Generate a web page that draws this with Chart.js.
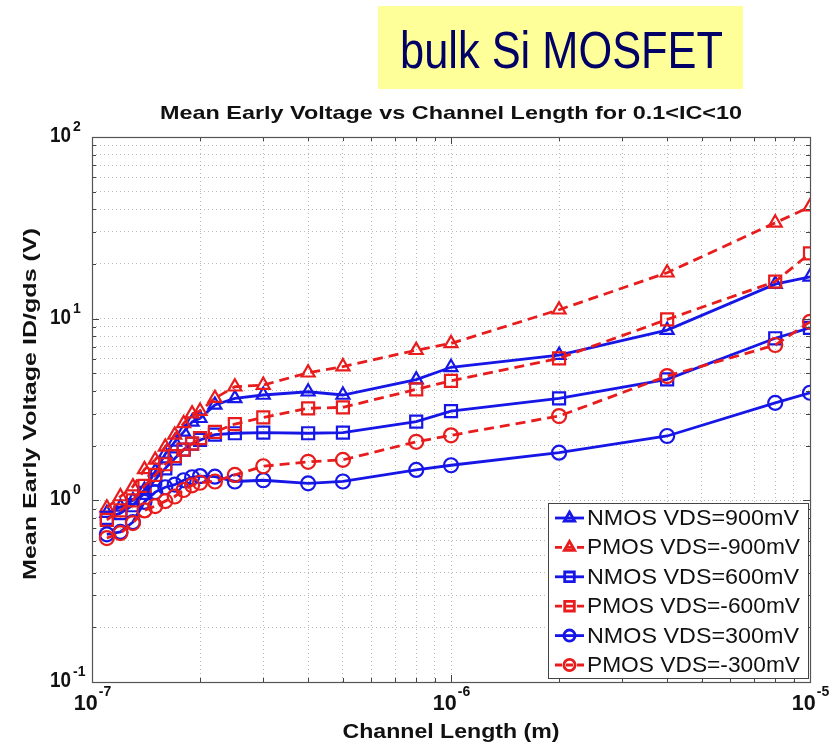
<!DOCTYPE html>
<html>
<head>
<meta charset="utf-8">
<script src="https://cdn.jsdelivr.net/npm/chart.js@4/dist/chart.umd.min.js"></script>
<style>
  html, body { margin: 0; padding: 0; background: #ffffff; }
  #wrap { position: relative; width: 839px; height: 745px; }
  canvas { display: block; }
</style>
</head>
<body>
<div id="wrap"><canvas id="c" width="839" height="745"></canvas></div>
<script>
// ---- data ----
const channelLength = [1.1e-7, 1.2e-7, 1.3e-7, 1.4e-7, 1.5e-7, 1.6e-7, 1.7e-7, 1.8e-7, 1.9e-7, 2.0e-7, 2.2e-7,
                       2.5e-7, 3e-7, 4e-7, 5e-7, 8e-7, 1e-6, 2e-6, 4e-6, 8e-6, 1e-5];
const nmos900 = [0.85, 0.92, 1.00, 1.14, 1.44, 1.80, 2.10, 2.38, 2.70, 2.83, 3.35, 3.64, 3.80, 3.96, 3.80, 4.62, 5.40, 6.30, 8.65, 15.5, 17.0];
const pmos900 = [0.91, 1.05, 1.19, 1.48, 1.67, 1.97, 2.29, 2.65, 3.00, 3.10, 3.65, 4.22, 4.31, 5.04, 5.45, 6.70, 7.31, 11.2, 17.9, 33.7, 41.3];
const nmos600 = [0.80, 0.85, 0.94, 1.10, 1.30, 1.50, 1.70, 1.90, 2.05, 2.15, 2.30, 2.34, 2.36, 2.34, 2.36, 2.71, 3.10, 3.64, 4.63, 7.80, 8.90];
const pmos600 = [0.78, 0.88, 1.00, 1.20, 1.38, 1.58, 1.75, 1.90, 2.05, 2.20, 2.38, 2.63, 2.86, 3.21, 3.25, 4.08, 4.55, 6.05, 9.90, 16.0, 22.9];
const nmos300 = [0.65, 0.67, 0.76, 0.98, 1.11, 1.18, 1.22, 1.29, 1.34, 1.36, 1.35, 1.27, 1.29, 1.24, 1.27, 1.47, 1.56, 1.83, 2.26, 3.44, 3.91];
const pmos300 = [0.62, 0.66, 0.75, 0.88, 0.93, 0.99, 1.05, 1.14, 1.21, 1.25, 1.27, 1.38, 1.54, 1.63, 1.67, 2.10, 2.28, 2.91, 4.83, 7.16, 9.61];

const seriesLabels = ['NMOS VDS=900mV', 'PMOS VDS=-900mV', 'NMOS VDS=600mV', 'PMOS VDS=-600mV', 'NMOS VDS=300mV', 'PMOS VDS=-300mV'];
const seriesValues = [nmos900, pmos900, nmos600, pmos600, nmos300, pmos300];
const seriesMarkers = ['triangle', 'triangle', 'rect', 'rect', 'circle', 'circle'];

const xDecades = [-7, -6, -5];
const yDecades = [-1, 0, 1, 2];

const titleText = 'Mean Early Voltage vs Channel Length for 0.1<IC<10';
const xTitle = 'Channel Length (m)';
const yTitle = 'Mean Early Voltage ID/gds (V)';
const bannerText = 'bulk Si MOSFET';

// ---- styles ----
const BLUE = 'rgb(22,22,230)';
const RED = 'rgb(232,28,28)';
const FONT = '"Liberation Sans", Arial, sans-serif';
const MARKER_RADIUS = { triangle: 7.5, rect: 8.5, circle: 7 };

function isPMOS(i) { return i % 2 === 1; }

const datasets = seriesValues.map((vals, i) => ({
  label: seriesLabels[i],
  data: channelLength.map((x, j) => ({ x: x, y: vals[j] })),
  borderColor: isPMOS(i) ? RED : BLUE,
  backgroundColor: 'rgba(0,0,0,0)',
  borderWidth: 2.8,
  borderDash: isPMOS(i) ? [10, 6] : [],
  pointStyle: seriesMarkers[i],
  pointRadius: MARKER_RADIUS[seriesMarkers[i]],
  pointBorderWidth: 2.2,
  pointBorderColor: isPMOS(i) ? RED : BLUE,
  pointBackgroundColor: 'rgba(0,0,0,0)',
  tension: 0,
  order: 6 - i
}));

function logTicks(decades) {
  const t = [];
  for (let k = 0; k < decades.length - 1; k++) {
    for (let m = 1; m <= 9; m++) t.push({ value: m * Math.pow(10, decades[k]) });
  }
  t.push({ value: Math.pow(10, decades[decades.length - 1]) });
  return t;
}

function fitText(ctx, text, x, y, font, width, align) {
  ctx.save();
  ctx.font = font;
  const w = ctx.measureText(text).width;
  const s = width / w;
  ctx.translate(x, y);
  ctx.scale(s, 1);
  ctx.textAlign = align;
  ctx.fillText(text, 0, 0);
  ctx.restore();
}

const decor = {
  id: 'decor',
  beforeDraw(chart) {
    const ctx = chart.ctx;
    ctx.save();
    ctx.fillStyle = '#ffffff';
    ctx.fillRect(0, 0, chart.width, chart.height);
    // banner
    ctx.fillStyle = 'rgb(255,255,153)';
    ctx.fillRect(378, 6, 365, 83);
    ctx.fillStyle = 'rgb(0,0,102)';
    ctx.textBaseline = 'alphabetic';
    fitText(ctx, bannerText, 400, 68, '52px ' + FONT, 323, 'left');
    // title
    ctx.fillStyle = '#111111';
    fitText(ctx, titleText, 451, 119, 'bold 19px ' + FONT, 582, 'center');
    // x title
    fitText(ctx, xTitle, 451, 738, 'bold 20px ' + FONT, 217, 'center');
    // y title
    ctx.save();
    ctx.translate(36, 404);
    ctx.rotate(-Math.PI / 2);
    fitText(ctx, yTitle, 0, 0, 'bold 18px ' + FONT, 352, 'center');
    ctx.restore();
    ctx.restore();
  },
  afterDraw(chart) {
    const ctx = chart.ctx;
    const a = chart.chartArea;
    const xs = chart.scales.x, ys = chart.scales.y;
    ctx.save();
    // tick marks (inward)
    ctx.strokeStyle = '#444444';
    ctx.lineWidth = 1;
    ys.ticks.forEach(t => {
      const p = Math.round(ys.getPixelForValue(t.value)) + 0.5;
      const major = Math.abs(Math.log10(t.value) - Math.round(Math.log10(t.value))) < 1e-9;
      const len = major ? 7 : 4;
      ctx.beginPath();
      ctx.moveTo(a.left, p); ctx.lineTo(a.left + len, p);
      ctx.moveTo(a.right, p); ctx.lineTo(a.right - len, p);
      ctx.stroke();
    });
    xs.ticks.forEach(t => {
      const p = Math.round(xs.getPixelForValue(t.value)) + 0.5;
      const major = Math.abs(Math.log10(t.value) - Math.round(Math.log10(t.value))) < 1e-9;
      const len = major ? 7 : 4;
      ctx.beginPath();
      ctx.moveTo(p, a.bottom); ctx.lineTo(p, a.bottom - len);
      ctx.moveTo(p, a.top); ctx.lineTo(p, a.top + len);
      ctx.stroke();
    });
    // axes box
    ctx.strokeStyle = '#555555';
    ctx.lineWidth = 1.2;
    ctx.strokeRect(a.left + 0.5, a.top + 0.5, a.right - a.left, a.bottom - a.top);

    // tick labels
    ctx.fillStyle = '#111111';
    yDecades.forEach(k => {
      const p = ys.getPixelForValue(Math.pow(10, k));
      ctx.textBaseline = 'middle';
      fitText(ctx, '10', 71, p - 1, 'bold 22px ' + FONT, 21, 'right');
      ctx.font = 'bold 14px ' + FONT;
      ctx.textAlign = 'left';
      ctx.textBaseline = 'alphabetic';
      ctx.fillText(String(k), 73, p - 6);
    });
    xDecades.forEach(k => {
      const p = xs.getPixelForValue(Math.pow(10, k));
      const w1 = 24;
      ctx.font = 'bold 14px ' + FONT;
      const w2 = ctx.measureText(String(k)).width;
      const start = p - (w1 + w2) / 2;
      ctx.textBaseline = 'middle';
      fitText(ctx, '10', start, 704, 'bold 22px ' + FONT, w1, 'left');
      ctx.font = 'bold 14px ' + FONT;
      ctx.textAlign = 'left';
      ctx.textBaseline = 'alphabetic';
      ctx.fillText(String(k), start + w1 + 1, 696);
    });

    // legend
    const lx = 548, ly = 503, lw = 260, lh = 175;
    ctx.fillStyle = '#ffffff';
    ctx.fillRect(lx, ly, lw, lh);
    ctx.strokeStyle = '#444444';
    ctx.lineWidth = 1;
    ctx.strokeRect(lx + 0.5, ly + 0.5, lw, lh);
    chart.data.datasets.forEach((ds, i) => {
      const cy = 518 + i * 29.4;
      ctx.save();
      ctx.strokeStyle = ds.borderColor;
      ctx.lineWidth = 2.8;
      ctx.setLineDash(ds.borderDash && ds.borderDash.length ? [7, 4] : []);
      ctx.beginPath();
      ctx.moveTo(555, cy); ctx.lineTo(584, cy);
      ctx.stroke();
      ctx.setLineDash([]);
      ctx.strokeStyle = ds.pointBorderColor;
      ctx.fillStyle = 'rgba(0,0,0,0)';
      Chart.helpers.drawPoint(ctx, { pointStyle: ds.pointStyle, radius: ds.pointRadius * 0.8, rotation: 0, borderWidth: 2 }, 569.5, cy);
      ctx.restore();
      ctx.fillStyle = '#111111';
      ctx.textBaseline = 'middle';
      fitText(ctx, ds.label, 587, cy + 1, '22px ' + FONT, i % 2 === 0 ? 212 : 213, 'left');
    });
    ctx.restore();
  }
};

const gridOpts = { color: 'rgba(120,120,120,0.5)', lineWidth: 1, drawTicks: false };

new Chart(document.getElementById('c'), {
  type: 'line',
  data: { datasets: datasets },
  options: {
    responsive: false,
    animation: false,
    devicePixelRatio: 1,
    layout: { padding: { left: 0, top: 137, right: 29, bottom: 0 } },
    plugins: { legend: { display: false }, title: { display: false }, tooltip: { enabled: false } },
    scales: {
      x: {
        type: 'logarithmic',
        min: 1e-7, max: 1e-5,
        afterBuildTicks: s => { s.ticks = logTicks(xDecades); },
        afterFit: s => { s.height = 63; },
        ticks: { display: false },
        grid: gridOpts,
        border: { display: false, dash: [1, 3] }
      },
      y: {
        type: 'logarithmic',
        min: 0.1, max: 100,
        afterBuildTicks: s => { s.ticks = logTicks(yDecades); },
        afterFit: s => { s.width = 92; },
        ticks: { display: false },
        grid: gridOpts,
        border: { display: false, dash: [1, 3] }
      }
    }
  },
  plugins: [decor]
});
</script>
</body>
</html>
